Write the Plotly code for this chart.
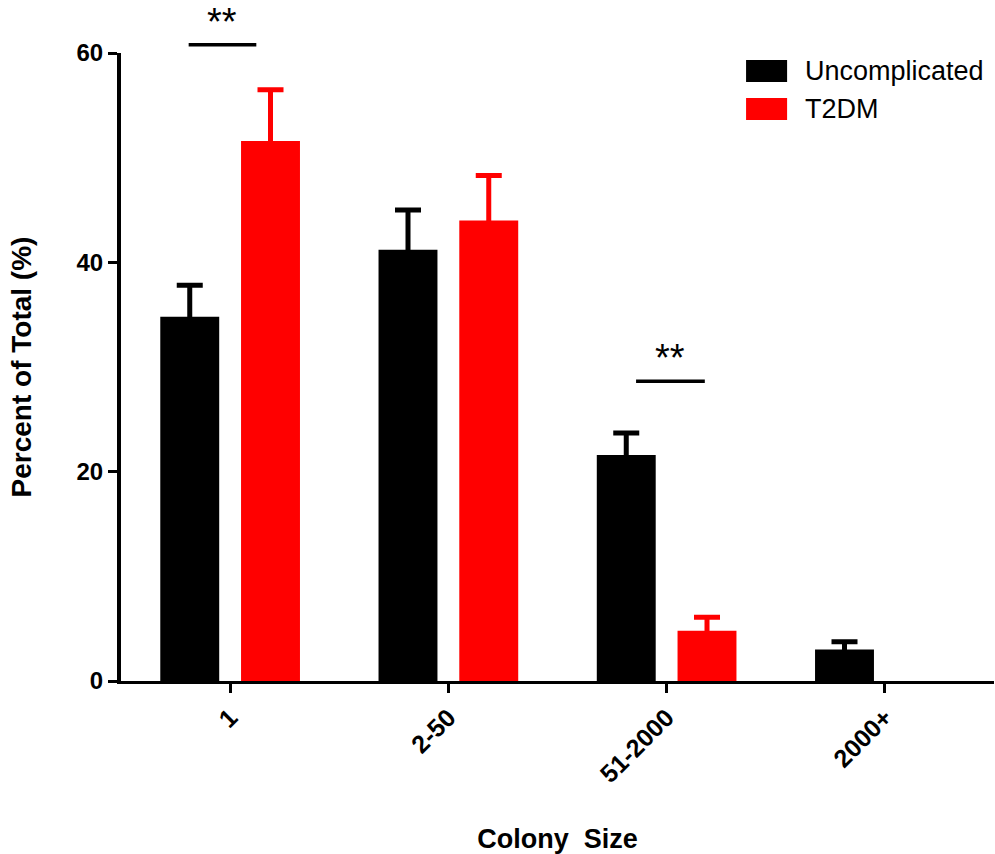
import plotly.graph_objects as go

# ---- data ----
categories = ["1", "2-50", "51-2000", "2000+"]
uncomplicated = [34.8, 41.2, 21.6, 3.0]
uncomplicated_err = [3.0, 3.8, 2.1, 0.75]
t2dm = [51.6, 44.0, 4.8, None]   # no visible bar for 2000+
t2dm_err = [4.9, 4.3, 1.3, None]
y_ticks = [0, 20, 40, 60]
# significance brackets: (category index, x start offset, x end offset, y value, label)
sig_marks = [(0, -0.19, 0.12, 60.8, "**"), (2, -0.14, 0.175, 28.65, "**")]

Y_MAX = 60
FONT = "Arial, 'Liberation Sans', Helvetica, sans-serif"
BLACK = "#000000"
RED = "#ff0000"

x_idx = list(range(len(categories)))


def down_to_base(values, errs):
    # lower whisker runs down inside the bar so no cap shows at the bar top
    return [v if (e is not None and v is not None) else None for v, e in zip(values, errs)]


fig = go.Figure()
fig.add_trace(go.Bar(
    x=x_idx, y=uncomplicated, name="Uncomplicated",
    marker=dict(color=BLACK, line=dict(width=0)),
    width=0.27, offset=-0.32,
    error_y=dict(type="data", symmetric=False, array=uncomplicated_err,
                 arrayminus=down_to_base(uncomplicated, uncomplicated_err),
                 thickness=5, width=13, color=BLACK),
    showlegend=False,
))
fig.add_trace(go.Bar(
    x=x_idx, y=t2dm, name="T2DM",
    marker=dict(color=RED, line=dict(width=0)),
    width=0.27, offset=0.05,
    error_y=dict(type="data", symmetric=False, array=t2dm_err,
                 arrayminus=down_to_base(t2dm, t2dm_err),
                 thickness=5, width=13, color=RED),
    showlegend=False,
))

shapes = []
annotations = []
for ci, xs, xe, yv, lab in sig_marks:
    shapes.append(dict(type="line", xref="x", yref="paper",
                       x0=ci + xs, x1=ci + xe, y0=yv / Y_MAX, y1=yv / Y_MAX,
                       line=dict(color=BLACK, width=3.5)))
    annotations.append(dict(xref="x", yref="paper", x=ci + (xs + xe) / 2,
                            y=yv / Y_MAX, yshift=0, yanchor="bottom",
                            text=lab, showarrow=False,
                            font=dict(family=FONT, size=38, color=BLACK)))

# custom legend
legend_items = [("Uncomplicated", BLACK), ("T2DM", RED)]
for i, (name, col) in enumerate(legend_items):
    top = 0.989 - i * 0.0605
    shapes.append(dict(type="rect", xref="paper", yref="paper",
                       x0=0.716, x1=0.763, y0=top - 0.035, y1=top,
                       fillcolor=col, line=dict(width=0)))
    annotations.append(dict(xref="paper", yref="paper", x=0.781, y=top - 0.0175,
                            xanchor="left", yanchor="middle", text=name,
                            showarrow=False,
                            font=dict(family=FONT, size=27, color=BLACK)))

fig.update_layout(
    width=995, height=854,
    margin=dict(l=121, r=1, t=53, b=173),
    plot_bgcolor="white", paper_bgcolor="white",
    barmode="overlay",
    shapes=shapes, annotations=annotations,
    showlegend=False,
    xaxis=dict(
        range=[-0.5, 3.5], tickmode="array", tickvals=x_idx, ticktext=categories,
        tickangle=-45, ticks="outside", ticklen=9, tickwidth=3, tickcolor=BLACK,
        showline=True, linewidth=3, linecolor=BLACK, showgrid=False, zeroline=False,
        tickfont=dict(family=FONT, size=25, color=BLACK, weight="bold"),
        title=dict(text="Colony\u00a0 Size", standoff=44,
                   font=dict(family=FONT, size=27, color=BLACK, weight="bold")),
    ),
    yaxis=dict(
        range=[0, Y_MAX], tickmode="array", tickvals=y_ticks,
        ticks="outside", ticklen=9, tickwidth=3, tickcolor=BLACK,
        showline=True, linewidth=4, linecolor=BLACK, showgrid=False, zeroline=False,
        tickfont=dict(family=FONT, size=24, color=BLACK, weight="bold"),
        title=dict(text="Percent of Total (%)", standoff=38,
                   font=dict(family=FONT, size=28, color=BLACK, weight="bold")),
    ),
)

fig.write_html("out.html")
